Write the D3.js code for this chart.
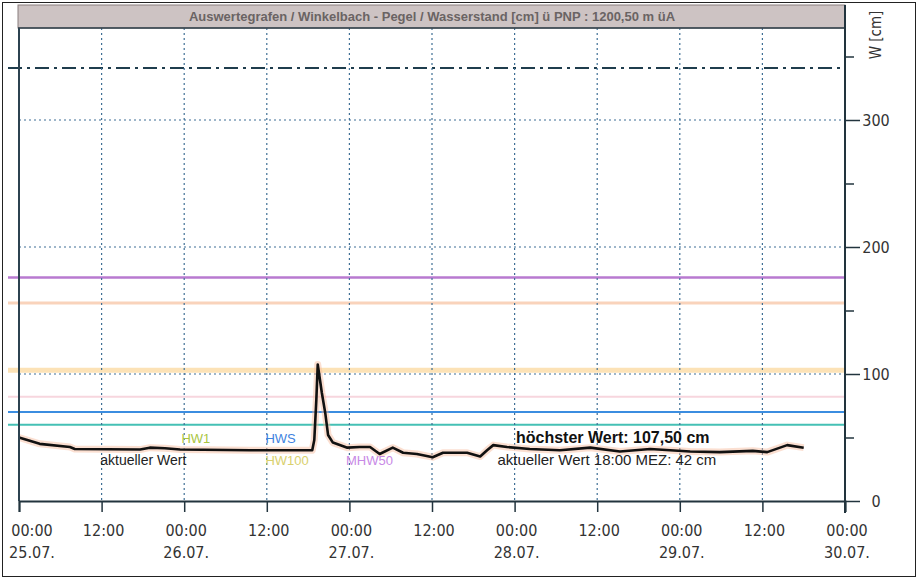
<!DOCTYPE html>
<html><head><meta charset="utf-8">
<script src="https://cdn.jsdelivr.net/npm/d3@7"></script>
<style>
html,body{margin:0;padding:0;background:#fff;}
svg{display:block;font-family:"Liberation Sans","Arial",sans-serif;}
.cond{font-family:"DejaVu Sans Condensed","DejaVu Sans",sans-serif;font-stretch:condensed;}
</style></head>
<body>
<svg id="c" width="918" height="579"></svg>
<script>
// ---- data ----
const titleText = "Auswertegrafen / Winkelbach - Pegel / Wasserstand [cm] ü PNP : 1200,50 m üA";
const yAxisLabel = "W [cm]";
// hours since 25.07 00:00
const hours = [0,3,7.4,8.1,17.6,19,21.2,23.4,33.6,42.6,42.9,43.2,43.4,44.0,44.5,44.9,45.6,47.7,49.5,51,52.4,54.3,55.8,57.8,58.7,60.1,61.6,63.6,65.1,67,68,68.9,70.9,74.2,78.6,83,87.3,91.7,97.5,101.8,106.6,108.7,111.6,114];
const values = [50,45,42.5,41,40.5,42,41.5,40.5,40,40,48,80,107.5,85,69,52,46,42,42.5,42.5,37,42,38,37,36,34.5,38,38,38,35,40,44,42.5,41,40,42,39,41,39,38.5,39.5,38.5,44,42];
const xTickHours = [0,12,24,36,48,60,72,84,96,108,120];
const xTimeLabels = ["00:00","12:00","00:00","12:00","00:00","12:00","00:00","12:00","00:00","12:00","00:00"];
const xDateLabels = ["25.07.","","26.07.","","27.07.","","28.07.","","29.07.","","30.07."];
const yMajorTicks = [0,100,200,300];
const yMinorTicks = [50,150,250,350];
const yGridValues = [100,200,300];
// threshold / level lines
const levelValues = [341,176,156,103,82,70,60];
const levelColors = ["#1f3d4d","#b87ad0","#f9d3bb","#fce2b6","#f7d6de","#3b8de0","#45c0b5"];
const levelWidths = [2,2.5,3,5,2,2,2];
const levelDash = ["14,5,3,5",null,null,null,null,null,null];
// level labels
const levelLabelText = ["HW1","HWS","HW100","MHW50"];
const levelLabelHour = [23.6,35.8,35.8,47.5];
const levelLabelValue = [46,46,28,28];
const levelLabelColor = ["#a9c53f","#3f83e0","#d9d06d","#c889e6"];
const maxLabel = "höchster Wert: 107,50 cm";
const curLabel = "aktueller Wert 18:00 MEZ: 42 cm";
const curLegend = "aktueller Wert";

// ---- layout ----
const svg = d3.select("#c");
const L = 19, R = 845, T = 28, B = 501;
const x = d3.scaleLinear().domain([0,120]).range([L,R]);
const y = d3.scaleLinear().domain([0,(B-T)/1.27]).range([B,T]);

// outer frame
svg.append("rect").attr("x",2.5).attr("y",2.5).attr("width",913).attr("height",574)
  .attr("fill","#fff").attr("stroke","#222").attr("stroke-width",1);

// level lines
levelValues.forEach((v,i)=>{
  svg.append("line").attr("x1",8).attr("x2",R).attr("y1",y(v)).attr("y2",y(v))
    .attr("stroke",levelColors[i]).attr("stroke-width",levelWidths[i])
    .attr("stroke-dasharray",levelDash[i]);
});

// grid
const grid = svg.append("g");
xTickHours.slice(1,-1).forEach(h=>{
  grid.append("line").attr("x1",x(h)).attr("x2",x(h)).attr("y1",T).attr("y2",B)
    .attr("stroke","#3f6f95").attr("stroke-width",1.2).attr("stroke-dasharray","2,3");
});
yGridValues.forEach(v=>{
  grid.append("line").attr("x1",L).attr("x2",R).attr("y1",y(v)).attr("y2",y(v))
    .attr("stroke","#3f6f95").attr("stroke-width",1.2).attr("stroke-dasharray","2,3");
});

// title bar
svg.append("rect").attr("x",18).attr("y",5).attr("width",R-18).attr("height",T-5)
  .attr("fill","#cdc3c3").attr("stroke","#8a7f7f").attr("stroke-width",1);
svg.append("line").attr("x1",18).attr("x2",R).attr("y1",T).attr("y2",T)
  .attr("stroke","#2c3e48").attr("stroke-width",1.5);
svg.append("text").attr("x",432).attr("y",21).attr("text-anchor","middle")
  .attr("font-size",13).attr("font-weight","bold").attr("fill","#6a6464").text(titleText);

// data line with halo
const line = d3.line().x((d,i)=>x(hours[i])).y(d=>y(d));
svg.append("path").datum(values).attr("d",line).attr("fill","none")
  .attr("stroke","#f6b898").attr("stroke-width",7).attr("opacity",0.45).attr("stroke-linejoin","round");
svg.append("path").datum(values).attr("d",line).attr("fill","none")
  .attr("stroke","#111").attr("stroke-width",2.6).attr("stroke-linejoin","round");

// level labels
levelLabelText.forEach((t,i)=>{
  svg.append("text").attr("x",x(levelLabelHour[i])).attr("y",y(levelLabelValue[i]))
    .attr("font-size",13).attr("fill",levelLabelColor[i]).text(t);
});
svg.append("text").attr("x",x(11.8)).attr("y",y(28)).attr("font-size",14)
  .attr("fill","#222").text(curLegend);
svg.append("text").attr("x",x(72.2)).attr("y",y(46)).attr("font-size",16)
  .attr("font-weight","bold").attr("fill","#111").text(maxLabel);
svg.append("text").attr("x",x(69.5)).attr("y",y(28)).attr("font-size",15)
  .attr("fill","#222").text(curLabel);

// left axis line
svg.append("line").attr("x1",L).attr("x2",L).attr("y1",T).attr("y2",B)
  .attr("stroke","#2c4250").attr("stroke-width",2);

// x axis
const xAxis = svg.append("g").attr("transform",`translate(0,${B})`)
  .call(d3.axisBottom(x).tickValues(xTickHours).tickSize(11).tickFormat(""));
xAxis.select(".domain").attr("stroke","#22343e").attr("stroke-width",2);
xAxis.selectAll(".tick line").attr("stroke","#22343e").attr("stroke-width",1.5);
xTickHours.forEach((h,i)=>{
  const cx = i===0 ? x(h)+13 : x(h)+2;
  svg.append("text").attr("class","cond").attr("x",cx).attr("y",536).attr("text-anchor","middle")
    .attr("font-size",16).attr("fill","#333").text(xTimeLabels[i]);
  if(xDateLabels[i]) svg.append("text").attr("class","cond").attr("x",cx).attr("y",558).attr("text-anchor","middle")
    .attr("font-size",16).attr("fill","#333").text(xDateLabels[i]);
});

// right y axis
svg.append("line").attr("x1",R).attr("x2",R).attr("y1",5).attr("y2",B+12)
  .attr("stroke","#22343e").attr("stroke-width",2);
const yAx = svg.append("g").attr("transform",`translate(${R},0)`)
  .call(d3.axisRight(y).tickValues(yMajorTicks).tickSize(15).tickFormat(""));
yAx.select(".domain").remove();
yAx.selectAll(".tick line").attr("stroke","#22343e").attr("stroke-width",1.5);
const yMin = svg.append("g").attr("transform",`translate(${R},0)`)
  .call(d3.axisRight(y).tickValues(yMinorTicks).tickSize(9).tickFormat(""));
yMin.select(".domain").remove();
yMin.selectAll(".tick line").attr("stroke","#22343e").attr("stroke-width",1.5);
yMajorTicks.forEach(v=>{
  svg.append("text").attr("class","cond").attr("x",876).attr("y",y(v)+6).attr("text-anchor","middle")
    .attr("font-size",16).attr("fill","#333").text(v);
});
svg.append("text").attr("class","cond").attr("transform","translate(881,35) rotate(-90)").attr("text-anchor","middle")
  .attr("font-size",15).attr("fill","#333").text(yAxisLabel);
</script>
</body></html>
